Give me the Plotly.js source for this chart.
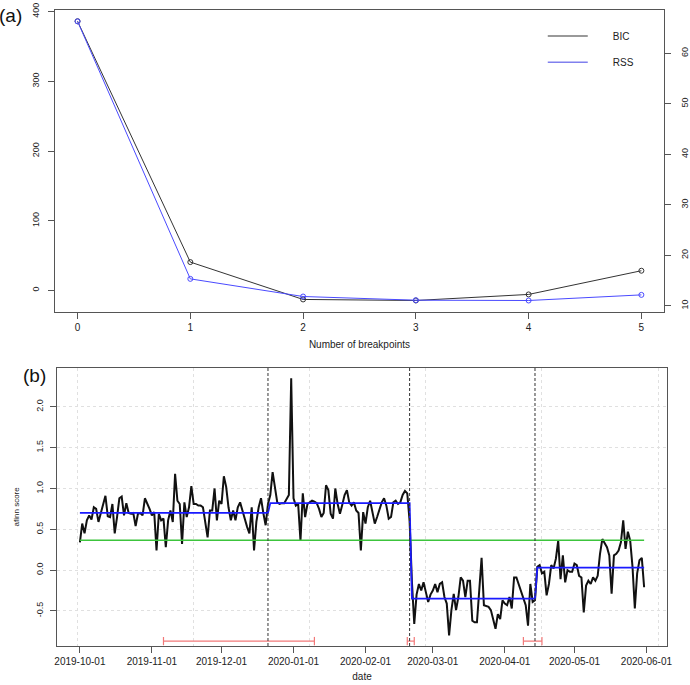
<!DOCTYPE html>
<html><head><meta charset="utf-8">
<script src="https://cdn.plot.ly/plotly-3.0.1.min.js"></script>
<style>html,body{margin:0;padding:0;background:#fff}#chart{width:690px;height:685px}</style>
</head><body><div id="chart"></div>
<script>
// ---- panel (a) ----
const breakpointsN = [0, 1, 2, 3, 4, 5];
const bicValues = [386.2, 40.7, -12.9, -14.4, -5.7, 28.3];
const rssValues = [66.3, 15.35, 11.86, 11.13, 11.07, 12.18];
const bicTicks = [0, 100, 200, 300, 400];
const rssTicks = [10, 20, 30, 40, 50, 60];

// ---- panel (b) ----
const seriesStart = '2019-10-01';
const afinnScores = [
 0.34,0.57,0.45,0.61,0.67,0.62,0.77,0.75,0.59,0.69,
 0.79,0.91,0.66,0.65,0.81,0.45,0.65,0.88,0.90,0.67,
 0.82,0.70,0.69,0.70,0.54,0.69,0.70,0.67,0.88,0.82,
 0.75,0.67,0.71,0.24,0.69,0.61,0.63,0.28,0.61,0.73,
 0.59,1.18,0.85,0.81,0.32,0.83,0.65,0.77,1.03,0.81,
 0.81,0.79,0.79,0.77,0.61,0.40,0.73,0.73,1.00,0.61,
 0.85,0.81,1.15,1.02,0.77,0.61,0.73,0.61,0.77,0.83,
 0.73,0.62,0.53,0.45,0.77,0.24,0.59,0.77,0.88,0.70,
 0.55,0.81,0.92,1.20,0.98,0.83,0.81,0.82,0.82,0.88,
 0.92,2.35,0.88,0.79,0.81,0.36,0.94,0.65,0.81,0.83,
 0.85,0.84,0.82,0.75,0.65,0.70,1.04,0.98,0.69,0.63,
 1.00,0.81,0.69,0.80,0.92,0.98,0.83,0.79,0.83,0.73,
 0.70,0.24,0.71,0.57,0.77,0.85,0.71,0.57,0.65,0.73,
 0.83,0.88,0.79,0.63,0.65,0.83,0.85,0.81,0.83,0.92,
 0.97,0.94,0.60,-0.15,-0.66,-0.30,-0.17,-0.25,-0.15,-0.27,
 -0.39,-0.30,-0.25,-0.17,-0.27,-0.17,-0.15,-0.33,-0.41,-0.80,
 -0.49,-0.29,-0.49,-0.33,-0.09,-0.13,-0.33,-0.13,-0.13,-0.62,
 -0.64,-0.64,-0.21,0.15,-0.43,-0.44,-0.45,-0.49,-0.60,-0.72,
 -0.54,-0.60,-0.37,-0.41,-0.43,-0.33,-0.47,-0.09,-0.09,-0.17,
 -0.25,-0.33,-0.43,-0.68,-0.17,-0.39,-0.37,0.04,0.06,-0.04,
 -0.02,-0.31,-0.17,0.06,0.02,0.14,0.36,-0.11,0.18,-0.15,
 0.00,-0.02,-0.02,0.08,0.06,-0.07,-0.09,-0.52,-0.19,-0.13,
 -0.17,-0.09,-0.13,-0.07,0.20,0.38,0.32,0.28,0.18,-0.29,
 0.18,0.20,0.24,0.34,0.61,0.26,0.47,0.36,0.04,-0.47,
 -0.04,0.12,0.15,-0.21
];
const segStarts = ['2019-10-01', '2019-12-22', '2020-02-21', '2020-04-15'];
const segEnds   = ['2019-12-21', '2020-02-20', '2020-04-14', '2020-05-31'];
const segLevels = [0.70, 0.82, -0.35, 0.03];
const overallMean = 0.365;
const breakDates = ['2019-12-21', '2020-02-20', '2020-04-14'];
const ciLower = ['2019-11-06', '2020-02-19', '2020-04-09'];
const ciUpper = ['2020-01-10', '2020-02-22', '2020-04-17'];
const ciLevel = -0.87;
const dateTicks = ['2019-10-01','2019-11-01','2019-12-01','2020-01-01','2020-02-01','2020-03-01','2020-04-01','2020-05-01','2020-06-01'];
const gridDates = ['2019-09-30','2019-11-19','2020-01-08','2020-02-27','2020-04-17','2020-06-06'];
const scoreTicks = [-0.5, 0, 0.5, 1.0, 1.5, 2.0];

// build daily dates
const dates = [];
{
  const s = new Date(seriesStart + 'T00:00:00Z');
  for (let i = 0; i < afinnScores.length; i++) {
    const d = new Date(s.getTime() + i * 86400000);
    dates.push(d.toISOString().slice(0, 10));
  }
}
const fitX = [], fitY = [];
segLevels.forEach((v, i) => { fitX.push(segStarts[i], segEnds[i]); fitY.push(v, v); });
const ciX = [], ciY = [];
ciLower.forEach((lo, i) => { ciX.push(lo, ciUpper[i], null); ciY.push(ciLevel, ciLevel, null); });

const FONT = 'Liberation Sans, Arial, sans-serif';
const BIC_COL = '#333333', RSS_COL = '#4a4aff';
const GRID_COL = '#e0e0e0';

const traces = [
  {x: breakpointsN, y: bicValues, xaxis: 'x', yaxis: 'y', mode: 'lines+markers', showlegend: false,
   line: {color: BIC_COL, width: 1}, marker: {symbol: 'circle-open', size: 5, color: BIC_COL, line: {width: 1}}},
  {x: breakpointsN, y: rssValues, xaxis: 'x', yaxis: 'y3', mode: 'lines+markers', showlegend: false,
   line: {color: RSS_COL, width: 1}, marker: {symbol: 'circle-open', size: 5, color: RSS_COL, line: {width: 1}}},
  {x: [null], y: [null], xaxis: 'x', yaxis: 'y', mode: 'lines', name: '\u2003\u2003BIC', legend: 'legend',
   line: {color: '#999999', width: 2}},
  {x: [null], y: [null], xaxis: 'x', yaxis: 'y', mode: 'lines', name: '\u2003\u2003RSS', legend: 'legend2',
   line: {color: '#8080ee', width: 1.5}},
  {x: [], y: [], xaxis: 'x4', yaxis: 'y2', showlegend: false, hoverinfo: 'skip'},
  {x: dates, y: afinnScores, xaxis: 'x2', yaxis: 'y2', mode: 'lines', showlegend: false,
   line: {color: '#111111', width: 2}},
  {x: [dates[0], dates[dates.length - 1]], y: [overallMean, overallMean], xaxis: 'x2', yaxis: 'y2',
   mode: 'lines', showlegend: false, line: {color: '#3cc43c', width: 1.6}},
  {x: fitX, y: fitY, xaxis: 'x2', yaxis: 'y2', mode: 'lines', showlegend: false,
   line: {color: '#1a1aff', width: 1.8}},
  {x: ciX, y: ciY, xaxis: 'x2', yaxis: 'y2', mode: 'lines+markers', showlegend: false,
   line: {color: '#f27878', width: 1.2},
   marker: {symbol: 'line-ns-open', size: 6, color: '#f27878', line: {width: 1.2, color: '#f27878'}}}
];

const shapes = breakDates.map(d => ({type: 'line', xref: 'x2', yref: 'y2 domain', x0: d, x1: d, y0: 0, y1: 1,
  line: {color: '#333333', width: 1, dash: '3px,2px'}}));

const axBase = {showline: true, mirror: true, linecolor: '#555555', linewidth: 1, ticks: 'outside', ticklen: 6,
  tickcolor: '#555555', showgrid: false, zeroline: false, automargin: false,
  tickfont: {family: FONT, size: 10, color: '#222222'}};

const xRange = ['2019-09-21 06:43', '2020-06-09 17:17'];

const layout = {
  width: 690, height: 685,
  margin: {l: 55, r: 23, t: 10, b: 39},
  paper_bgcolor: '#ffffff', plot_bgcolor: '#ffffff',
  font: {family: FONT, color: '#222222'},
  xaxis: Object.assign({}, axBase, {domain: [0, 0.995], anchor: 'y', range: [-0.2, 5.2], tickvals: breakpointsN,
    title: {text: 'Number of breakpoints', font: {family: FONT, size: 10, color: '#222'}, standoff: 9}}),
  yaxis: Object.assign({}, axBase, {domain: [0.5256, 1], anchor: 'x', range: [-30.5, 402.3], tickvals: bicTicks,
    tickangle: -90, tickfont: {family: FONT, size: 9, color: '#222'}, ticklabelstandoff: 5}),
  yaxis3: Object.assign({}, axBase, {overlaying: 'y', side: 'right', anchor: 'x', range: [8.85, 68.55],
    tickvals: rssTicks, tickangle: -90, mirror: false, tickfont: {family: FONT, size: 9, color: '#222'}, ticklabelstandoff: 6}),
  xaxis2: Object.assign({}, axBase, {domain: [0.0038, 0.9995], anchor: 'y2', type: 'date', range: xRange,
    tickvals: dateTicks, ticktext: dateTicks, showgrid: false,
    title: {text: 'date', font: {family: FONT, size: 10, color: '#222'}, standoff: 6}}),
  xaxis4: {overlaying: 'x2', anchor: 'y2', type: 'date', range: xRange, tickvals: gridDates, showgrid: true,
    gridcolor: GRID_COL, griddash: 'dot', gridwidth: 1, showticklabels: false, ticks: '', showline: false,
    zeroline: false},
  yaxis2: Object.assign({}, axBase, {domain: [0, 0.4376], anchor: 'x2', range: [-0.93, 2.48], tickvals: scoreTicks,
    ticktext: scoreTicks.map(v => v.toFixed(1)), tickangle: -90, showgrid: true, gridcolor: GRID_COL, griddash: 'dot',
    tickfont: {family: FONT, size: 9, color: '#222'}, ticklabelstandoff: 4,
    title: {text: 'afinn score', font: {family: FONT, size: 8, color: '#222'}, standoff: 13}}),
  legend: {x: 0.797, y: 0.959, xanchor: 'left', yanchor: 'middle', bgcolor: 'rgba(0,0,0,0)',
    font: {family: FONT, size: 10, color: '#222'}, itemwidth: 40},
  legend2: {x: 0.797, y: 0.918, xanchor: 'left', yanchor: 'middle', bgcolor: 'rgba(0,0,0,0)',
    font: {family: FONT, size: 10, color: '#222'}, itemwidth: 40},
  shapes: shapes,
  annotations: [
    {text: '(a)', xref: 'paper', yref: 'paper', x: -0.072, y: 0.992, showarrow: false,
     xanchor: 'center', yanchor: 'middle', font: {family: FONT, size: 19, color: '#111'}},
    {text: '(b)', xref: 'paper', yref: 'paper', x: -0.034, y: 0.426, showarrow: false,
     xanchor: 'center', yanchor: 'middle', font: {family: FONT, size: 19, color: '#111'}}
  ]
};

Plotly.newPlot('chart', traces, layout, {displayModeBar: false, staticPlot: true});
</script>
</body></html>
